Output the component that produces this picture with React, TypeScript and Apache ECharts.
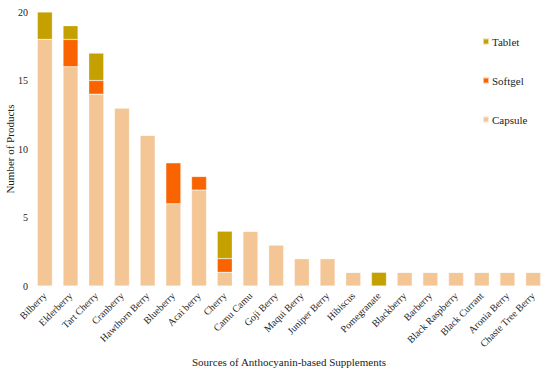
import React, { useEffect, useRef } from "react";
import * as echarts from "echarts";

const categories = [
  "Bilberry", "Elderberry", "Tart Cherry", "Cranberry", "Hawthorn Berry", "Blueberry",
  "Acai berry", "Cherry", "Camu Camu", "Goji Berry", "Maqui Berry", "Juniper Berry",
  "Hibiscus", "Pomegranate", "Blackberry", "Barberry", "Black Raspberry", "Black Currant",
  "Aronia Berry", "Chaste Tree Berry",
];
const capsule = [18, 16, 14, 13, 11, 6, 7, 1, 4, 3, 2, 2, 1, 0, 1, 1, 1, 1, 1, 1];
const softgel = [0, 2, 1, 0, 0, 3, 1, 1, 0, 0, 0, 0, 0, 0, 0, 0, 0, 0, 0, 0];
const tablet = [2, 1, 2, 0, 0, 0, 0, 2, 0, 0, 0, 0, 0, 1, 0, 0, 0, 0, 0, 0];
const yTicks = [0, 5, 10, 15, 20];

const FONT = "Liberation Serif";
const C_CAP = "#F4C595";
const C_SOFT = "#F96400";
const C_TAB = "#C4A000";

export default function App() {
  const ref = useRef<HTMLDivElement>(null);
  useEffect(() => {
    if (!ref.current) return;
    const chart = echarts.init(ref.current, undefined, { renderer: "svg" });
    const barStyle = (color: string) => ({
      color,
      borderColor: "rgba(255,255,255,0.6)",
      borderWidth: 0.5,
    });
    chart.setOption({
      animation: false,
      textStyle: { fontFamily: FONT },
      grid: { left: 32, right: 4, top: 12, bottom: 83, containLabel: false, outerBoundsMode: "none" },
      legend: {
        orient: "vertical",
        left: 477,
        top: 31,
        itemWidth: 6,
        itemHeight: 6,
        itemGap: 28,
        icon: "rect",
        data: ["Tablet", "Softgel", "Capsule"],
        textStyle: { fontFamily: FONT, fontSize: 11, color: "#222", padding: [0, 0, 0, -2] },
      },
      xAxis: {
        type: "category",
        data: categories,
        name: "Sources of Anthocyanin-based Supplements",
        nameLocation: "middle",
        nameGap: 70,
        nameMoveOverlap: false,
        nameTextStyle: { fontFamily: FONT, fontSize: 11, color: "#222" },
        axisLine: { show: false },
        axisTick: { show: false },
        axisLabel: {
          rotate: 45,
          interval: 0,
          fontFamily: FONT,
          fontSize: 10,
          color: "#222",
          margin: 8,
        },
      },
      yAxis: {
        type: "value",
        min: yTicks[0],
        max: yTicks[yTicks.length - 1],
        interval: 5,
        name: "Number of Products",
        nameLocation: "middle",
        nameGap: 17,
        nameMoveOverlap: false,
        nameTextStyle: { fontFamily: FONT, fontSize: 11, color: "#222" },
        splitLine: { show: false },
        axisLine: { show: false },
        axisTick: { show: false },
        axisLabel: { fontFamily: FONT, fontSize: 10, color: "#222", margin: 4 },
      },
      series: [
        { name: "Capsule", type: "bar", stack: "t", data: capsule, barWidth: 15, itemStyle: barStyle(C_CAP) },
        { name: "Softgel", type: "bar", stack: "t", data: softgel, barWidth: 15, itemStyle: barStyle(C_SOFT) },
        { name: "Tablet", type: "bar", stack: "t", data: tablet, barWidth: 15, itemStyle: barStyle(C_TAB) },
      ],
    });
    return () => chart.dispose();
  }, []);
  return <div ref={ref} style={{ width: 550, height: 369, position: "absolute", left: 0, top: 0 }} />;
}
